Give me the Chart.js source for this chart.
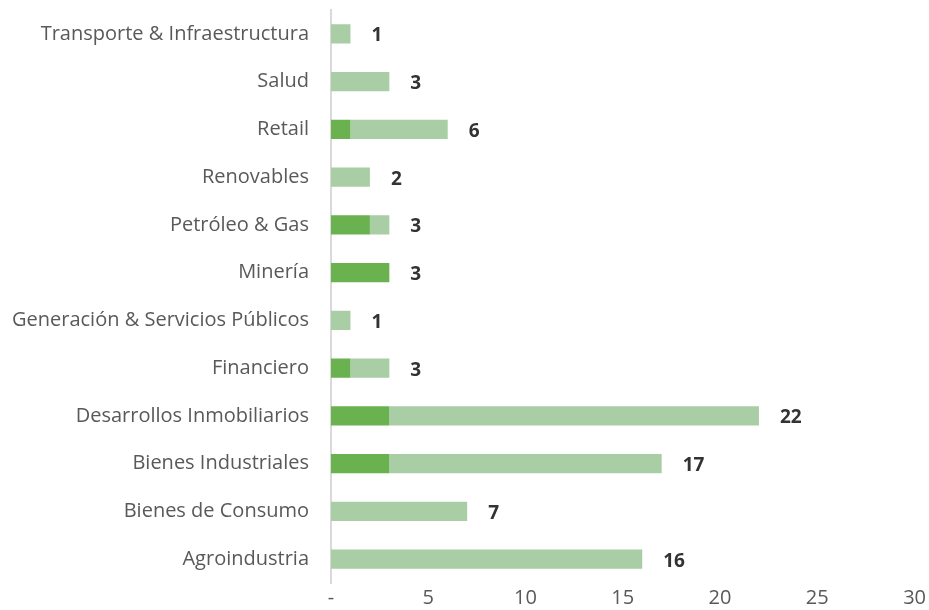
<!DOCTYPE html>
<html><head><meta charset="utf-8">
<script src="https://cdn.jsdelivr.net/npm/chart.js@4/dist/chart.umd.min.js"></script>
<style>html,body{margin:0;padding:0;background:#fff}#wrap{width:929px;height:610px}</style>
</head><body><div id="wrap"><canvas id="c" width="929" height="610"></canvas></div>
<script>
const categories = ["Transporte & Infraestructura","Salud","Retail","Renovables","Petróleo & Gas","Minería","Generación & Servicios Públicos","Financiero","Desarrollos Inmobiliarios","Bienes Industriales","Bienes de Consumo","Agroindustria"];
const darkValues = [0,0,1,0,2,3,0,1,3,3,0,0];
const lightValues = [1,3,5,2,1,0,1,2,19,14,7,16];
const totals = [1,3,6,2,3,3,1,3,22,17,7,16];
const xTicks = [0,5,10,15,20,25,30];

const totalsPlugin = {
  id:'totals',
  afterDatasetsDraw(chart){
    const ctx = chart.ctx, xs = chart.scales.x, ys = chart.scales.y;
    ctx.save();
    ctx.font = 'bold 19px "Open Sans"';
    ctx.fillStyle = '#333333';
    ctx.textAlign = 'left';
    ctx.textBaseline = 'middle';
    totals.forEach((t,i)=>{
      const x = xs.getPixelForValue(t) + 21;
      const y = ys.getPixelForValue(i) + 2;
      ctx.fillText(String(t), x, y);
    });
    ctx.restore();
  }
};

new Chart(document.getElementById('c'), {
  type:'bar',
  data:{
    labels:categories,
    datasets:[
      {label:'A', data:darkValues, backgroundColor:'#6ab150', categoryPercentage:0.4, barPercentage:1},
      {label:'B', data:lightValues, backgroundColor:'#a9cea5', categoryPercentage:0.4, barPercentage:1}
    ]
  },
  options:{
    indexAxis:'y',
    responsive:false,
    animation:false,
    layout:{padding:{top:10,right:11,left:0,bottom:0}},
    plugins:{legend:{display:false},tooltip:{enabled:false}},
    scales:{
      x:{
        stacked:true, min:0, max:30,
        afterBuildTicks(s){ s.ticks = xTicks.map(v=>({value:v})); },
        afterFit(s){ s.height = 27; },
        grid:{display:false, drawTicks:false},
        border:{display:false},
        ticks:{color:'#595959', font:{family:'"Open Sans"', size:20}, padding:3, maxRotation:0,
          callback:(v)=> v===0 ? '-' : String(v)}
      },
      y:{
        stacked:true,
        grid:{display:false, drawTicks:false},
        border:{display:true, color:'#d9d9d9', width:2},
        afterFit(s){ s.width = 331; s.paddingTop = 0; s.paddingBottom = 0; },
        ticks:{color:'#595959', font:{family:'"Open Sans"', size:20}, padding:22}
      }
    }
  },
  plugins:[totalsPlugin]
});
</script></body></html>
